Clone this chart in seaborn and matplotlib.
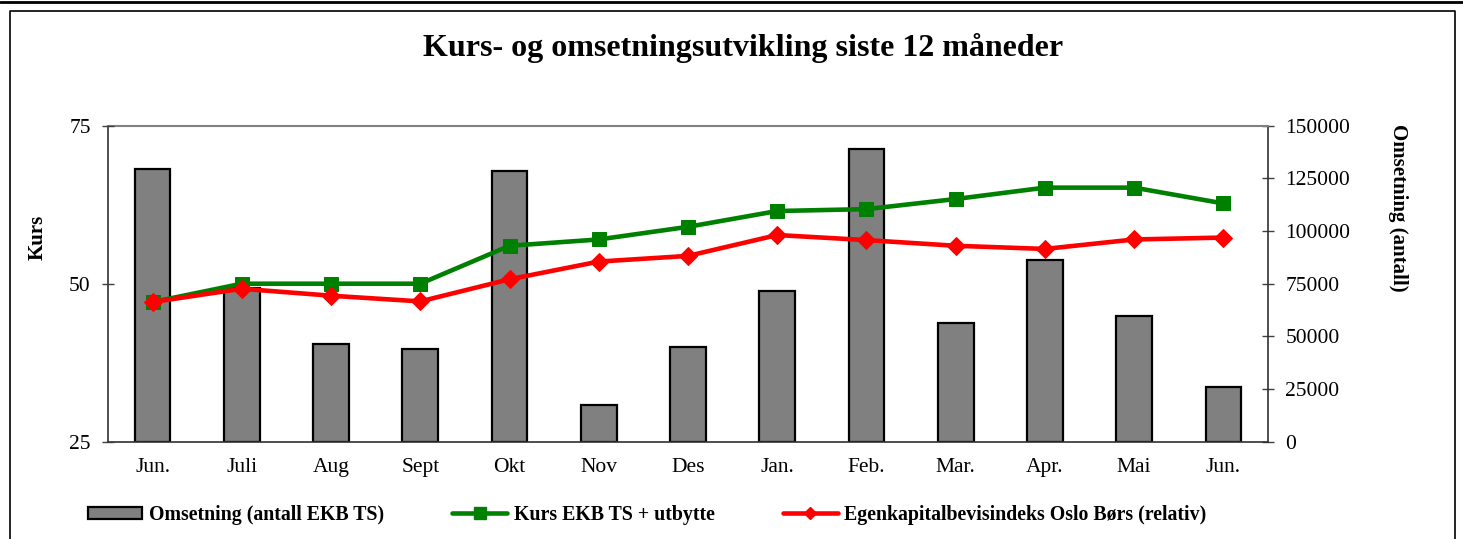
import matplotlib
matplotlib.use("Agg")
import matplotlib.pyplot as plt
import seaborn as sns
import numpy as np
from matplotlib.lines import Line2D
from matplotlib.patches import Patch
from matplotlib.ticker import FixedLocator, StrMethodFormatter

# ---- data ----
months = ["Jun.", "Juli", "Aug", "Sept", "Okt", "Nov", "Des", "Jan.", "Feb.", "Mar.", "Apr.", "Mai", "Jun."]
omsetning = [129500, 73000, 46200, 44200, 128700, 17300, 45100, 71400, 139000, 56200, 86200, 59700, 26000]
kurs = [47.1, 50.0, 50.0, 50.0, 56.0, 57.0, 59.0, 61.5, 61.8, 63.4, 65.2, 65.2, 62.7]
indeks = [47.1, 49.2, 48.1, 47.2, 50.7, 53.5, 54.4, 57.7, 56.9, 56.0, 55.5, 57.0, 57.3]
kurs_ticks = [25, 50, 75]
oms_ticks = [0, 25000, 50000, 75000, 100000, 125000, 150000]

title = "Kurs- og omsetningsutvikling siste 12 måneder"
lab_bar = "Omsetning (antall EKB TS)"
lab_green = "Kurs EKB TS + utbytte"
lab_red = "Egenkapitalbevisindeks Oslo Børs (relativ)"

sns.set_style("white")
plt.rcParams["font.family"] = ["Liberation Serif", "DejaVu Serif"]
plt.rcParams["text.color"] = "black"
plt.rcParams["xtick.color"] = "black"
plt.rcParams["ytick.color"] = "black"

W, H = 1463, 539
fig = plt.figure(figsize=(W / 100, H / 100), dpi=100)
ax = fig.add_axes([108 / W, 1 - 441.7 / H, 1160 / W, 316 / H])
ax2 = ax.twinx()

idx = list(range(len(months)))

GREY = "#808080"
GREEN = "#008000"
RED = "#FF0000"

sns.barplot(x=idx, y=omsetning, ax=ax, color=GREY, edgecolor="black",
            linewidth=1.6, width=0.4, saturation=1, zorder=2)
sns.lineplot(x=idx, y=kurs, ax=ax2, color=GREEN, marker="s", markersize=10,
             markeredgecolor=GREEN, linewidth=3.3, zorder=3)
sns.lineplot(x=idx, y=indeks, ax=ax2, color=RED, marker="D", markersize=9,
             markeredgecolor=RED, linewidth=3.3, zorder=4)

# x axis
ax.set_xlim(-0.5, len(months) - 0.5)
ax2.set_xlim(-0.5, len(months) - 0.5)
ax.set_xticks(idx)
ax.set_xticklabels(months, fontsize=15.5)
ax.xaxis.set_minor_locator(FixedLocator(np.arange(-0.5, len(months), 1.0)))
ax.tick_params(axis="x", which="major", length=0, pad=12, labelcolor="black")
ax.tick_params(axis="x", which="minor", direction="inout", length=9, width=1, color="#404040")

# right axis (omsetning) on ax
ax.set_ylim(0, 150000)
ax.set_yticks(oms_ticks)
ax.yaxis.set_major_formatter(StrMethodFormatter("{x:.0f}"))
ax.yaxis.tick_right()
ax.tick_params(axis="y", which="major", direction="inout", length=9, width=1,
               labelsize=15.5, pad=8, color="#404040", labelcolor="black")
ax.set_yticks([75000, 150000], minor=True)
ax.tick_params(axis="y", which="minor", length=0)
ax.grid(False)
ax.grid(True, which="minor", axis="y", color=GREY, linewidth=1.2, zorder=0)
ax.set_axisbelow(True)
ax.set_xlabel("")
ax.set_ylabel("")

# left axis (kurs) on ax2
ax2.set_ylim(25, 75)
ax2.set_yticks(kurs_ticks)
ax2.yaxis.tick_left()
ax2.tick_params(axis="y", direction="inout", length=9, width=1, labelsize=15.5, pad=8,
                color="#404040", labelcolor="black")
ax2.set_ylabel("")
ax2.grid(False)

for s in ["left", "right", "bottom"]:
    ax.spines[s].set_color("#303030")
    ax.spines[s].set_linewidth(1.2)
ax.spines["top"].set_color(GREY)
ax.spines["top"].set_linewidth(1.5)
for s in ax2.spines.values():
    s.set_visible(False)

# titles / axis labels
fig.text(743 / W, 1 - 48 / H, title, ha="center", va="center", fontsize=23, fontweight="bold", color="black")
fig.text(38 / W, 1 - 237 / H, "Kurs", rotation=90, ha="center", va="center", fontsize=15, fontweight="bold")
fig.text(1398 / W, 1 - 208 / H, "Omsetning (antall)", rotation=270, ha="center", va="center",
         fontsize=15, fontweight="bold")

# legend
handles = [
    Patch(facecolor=GREY, edgecolor="black", linewidth=1.6),
    Line2D([], [], color=GREEN, linewidth=3.3, marker="s", markersize=8),
    Line2D([], [], color=RED, linewidth=3.3, marker="D", markersize=6.5),
]
leg = fig.legend(handles, [lab_bar, lab_green, lab_red], loc="center",
                 bbox_to_anchor=(647 / W, 1 - 515 / H), ncol=3, frameon=False,
                 prop={"weight": "bold", "size": 14.3}, handlelength=2.75, handleheight=0.6,
                 handletextpad=0.33, columnspacing=3.45)

# outer frame
fig.add_artist(Line2D([0, 1], [1 - 2 / H, 1 - 2 / H], transform=fig.transFigure, color="black", linewidth=2))
fx0, fx1, fy1 = 10 / W, 1455 / W, 1 - 11 / H
fig.add_artist(Line2D([fx0, fx0, fx1, fx1], [0, fy1, fy1, 0], transform=fig.transFigure,
                      color="black", linewidth=1.2))

fig.savefig("out.png", dpi=100)
